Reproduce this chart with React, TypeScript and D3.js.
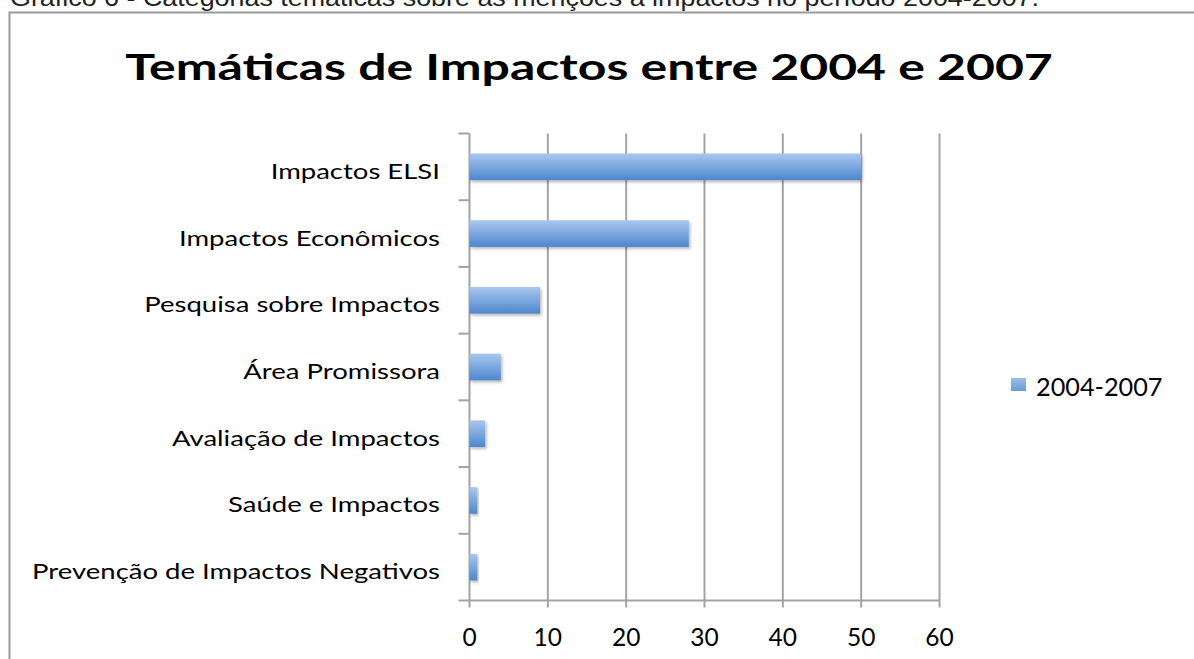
import React from "react";
import * as d3 from "d3";

const caption = "Gráfico 6 - Categorias temáticas sobre as menções a impactos no período 2004-2007.";
const title = "Temáticas de Impactos entre 2004 e 2007";
const categories = [
  "Impactos ELSI",
  "Impactos Econômicos",
  "Pesquisa sobre Impactos",
  "Área Promissora",
  "Avaliação de Impactos",
  "Saúde e Impactos",
  "Prevenção de Impactos Negativos",
];
const values = [50, 28, 9, 4, 2, 1, 1];
const seriesName = "2004-2007";
const xTicks = [0, 10, 20, 30, 40, 50, 60];

const W = 1194;
const H = 659;
const FONT = "Lato, 'Open Sans', sans-serif";

export default function App() {
  const left = 469.5, right = 939.5, top = 133.5, bottom = 600.5;
  const x = d3.scaleLinear().domain([0, 60]).range([left, right]);
  const y = d3.scaleBand<string>().domain(categories).range([top, bottom]).paddingInner(0.6).paddingOuter(0.3);
  const yb = d3.scaleBand<string>().domain(categories).range([top, bottom]);
  const grid = "#a3a3a3";
  return (
    <svg width={W} height={H} style={{ position: "absolute", left: 0, top: 0, display: "block", background: "#fff" }}>
      <defs>
        <linearGradient id="barg" x1="0" y1="0" x2="0" y2="1">
          <stop offset="0" stopColor="#a9c7ee" />
          <stop offset="0.5" stopColor="#7ba7de" />
          <stop offset="1" stopColor="#4d86cc" />
        </linearGradient>
        <linearGradient id="legg" x1="0" y1="0" x2="0" y2="1">
          <stop offset="0" stopColor="#9dbde8" />
          <stop offset="1" stopColor="#6a9bd7" />
        </linearGradient>
        <filter id="sh" x="-10%" y="-30%" width="130%" height="180%">
          <feDropShadow dx="1.5" dy="2" stdDeviation="1.6" floodColor="#000" floodOpacity="0.28" />
        </filter>
      </defs>
      <g transform="translate(10,6) scale(1.12,1)">
        <text x={0} y={0} fontFamily="'Liberation Sans', Arial, sans-serif" fontSize={24} fill="#222">{caption}</text>
      </g>
      <path d={`M9.5,${H} V12.5 H${W}`} fill="none" stroke="#9a9a9a" strokeWidth={2} />
      <g transform="translate(589,79.5) scale(1.35,1)">
        <text x={0} y={0} textAnchor="middle" fontFamily={FONT} fontWeight={700} fontSize={37} fill="#000">{title}</text>
      </g>
      {xTicks.map((t) => (
        <g key={t}>
          <line x1={x(t)} x2={x(t)} y1={top} y2={bottom + 7} stroke={grid} strokeWidth={2} />
          <text x={x(t)} y={646} textAnchor="middle" fontFamily={FONT} fontSize={24.5} fill="#000">{t}</text>
        </g>
      ))}
      <line x1={left - 11} x2={right} y1={bottom} y2={bottom} stroke={grid} strokeWidth={2} />
      {categories.map((c, i) => (
        <line key={"t" + i} x1={left - 11} x2={left} y1={yb(c)!} y2={yb(c)!} stroke={grid} strokeWidth={2} />
      ))}
      {categories.map((c, i) => (
        <rect key={"b" + i} x={x(0)} y={y(c)!} width={x(values[i]) - x(0)} height={y.bandwidth()} fill="url(#barg)" filter="url(#sh)" />
      ))}
      {categories.map((c) => (
        <g key={"l" + c} transform={`translate(440,${yb(c)! + yb.bandwidth() / 2 + 12}) scale(1.28,1)`}>
          <text x={0} y={0} textAnchor="end" fontFamily={FONT} fontSize={21.5} fill="#000">{c}</text>
        </g>
      ))}
      <rect x={1011} y={378} width={15} height={13} fill="url(#legg)" />
      <g transform="translate(1036,396) scale(1.03,1)">
        <text x={0} y={0} fontFamily={FONT} fontSize={24.5} fill="#000">{seriesName}</text>
      </g>
    </svg>
  );
}
